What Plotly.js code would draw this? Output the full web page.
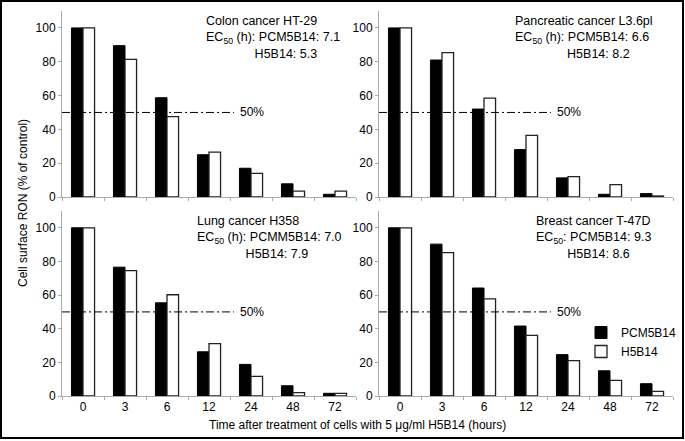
<!DOCTYPE html>
<html>
<head>
<meta charset="utf-8">
<script src="https://cdn.plot.ly/plotly-3.0.1.min.js"></script>
<style>
  html, body { margin: 0; padding: 0; background: #fff; }
  #chart { width: 685px; height: 441px; }
</style>
</head>
<body>
<div id="chart"></div>
<script>
// Time points (hours)
const hours = ['0', '3', '6', '12', '24', '48', '72'];

// Cell surface RON, % of control
const colonPCM = [100, 89.5, 58.7, 25, 17, 7.8, 1.6];
const colonH = [100, 81.4, 47.5, 26.5, 14, 3.5, 3.5];
const pancPCM = [100, 81, 52, 28, 11.3, 1.6, 2];
const pancH = [100, 85.4, 58.5, 36.4, 12.1, 7.3, 0.6];
const lungPCM = [100, 76.6, 55.4, 26.3, 18.8, 6.1, 1.6];
const lungH = [100, 74.5, 60.2, 31.1, 11.7, 2, 1.6];
const breastPCM = [100, 90.3, 64.2, 41.6, 24.6, 15, 7.3];
const breastH = [100, 85.3, 57.8, 36, 21, 9.3, 2.8];

const seriesNames = ['PCM5B14', 'H5B14'];
const panelTitles = ['Colon cancer HT-29', 'Pancreatic cancer L3.6pl', 'Lung cancer H358', 'Breast cancer T-47D'];
const ecLines = [
    'EC<sub>50</sub> (h): PCM5B14: 7.1',
    'EC<sub>50</sub> (h): PCM5B14: 6.6',
    'EC<sub>50</sub> (h): PCMM5B14: 7.0',
    'EC<sub>50</sub>: PCM5B14: 9.3'
];
const hLines = ['H5B14: 5.3', 'H5B14: 8.2', 'H5B14: 7.9', 'H5B14: 8.6'];
const halfLevel = 50;

const W = 685, H = 441;
const px = x => x / W;
const py = y => 1 - y / H;
const font = 'Liberation Sans, Arial, sans-serif';

const panels = [
    [colonPCM, colonH],
    [pancPCM, pancH],
    [lungPCM, lungH],
    [breastPCM, breastH]
];

// pixel boxes for each panel
const xDom = [[62, 356], [379, 673], [62, 356], [379, 673]];
const yDom = [[197, 11], [197, 11], [396, 211], [396, 211]];
// label block: left x, middle y, indent (in spaces) of last line
const labelPos = [[205, 37, 14], [514, 37, 15], [196, 237, 14], [535, 237, 9]];

var traces = [];
var layout = {
    width: W,
    height: H,
    autosize: false,
    margin: { l: 0, r: 0, t: 0, b: 0 },
    paper_bgcolor: '#fff',
    plot_bgcolor: '#fff',
    barmode: 'group',
    bargap: 0.45,
    bargroupgap: 0,
    font: { family: font, size: 12, color: '#000' },
    showlegend: true,
    legend: {
        x: px(581), y: py(318), xanchor: 'left', yanchor: 'top',
        bgcolor: 'rgba(0,0,0,0)', font: { family: font, size: 12, color: '#000' },
        tracegroupgap: 0, itemwidth: 30
    },
    shapes: [],
    annotations: []
};

panels.forEach((p, i) => {
    const n = i === 0 ? '' : String(i + 1);
    const xa = 'x' + n, ya = 'y' + n;

    traces.push({
        type: 'bar', x: hours, y: p[0], name: seriesNames[0],
        xaxis: xa, yaxis: ya, showlegend: i === 0, legendgroup: 'a',
        marker: { color: '#000', line: { color: '#000', width: 1 } }
    });
    traces.push({
        type: 'bar', x: hours, y: p[1], name: seriesNames[1],
        xaxis: xa, yaxis: ya, showlegend: i === 0, legendgroup: 'b',
        marker: { color: '#fff', line: { color: '#222', width: 1.3 } }
    });

    layout['xaxis' + n] = {
        domain: [px(xDom[i][0]), px(xDom[i][1])],
        anchor: ya,
        type: 'category',
        showline: true, linecolor: '#aaa', linewidth: 1,
        ticks: 'outside', ticklen: 3, tickcolor: '#aaa', tickson: 'boundaries',
        showgrid: false, zeroline: false,
        showticklabels: i >= 2,
        tickfont: { family: font, size: 12, color: '#000' }
    };
    layout['yaxis' + n] = {
        domain: [py(yDom[i][0]), py(yDom[i][1])],
        anchor: xa,
        range: [0, 110],
        tickvals: [0, 20, 40, 60, 80, 100],
        showline: true, linecolor: '#aaa', linewidth: 1,
        ticks: 'outside', ticklen: 3, tickcolor: '#aaa',
        showgrid: false, zeroline: false,
        tickfont: { family: font, size: 12, color: '#000' }
    };

    // 50% reference line
    layout.shapes.push({
        type: 'line', xref: xa + ' domain', yref: ya,
        x0: 0, x1: 0.585, y0: halfLevel, y1: halfLevel,
        line: { color: '#000', width: 1, dash: '8px,3px,2px,3px' }
    });
    layout.annotations.push({
        xref: xa + ' domain', yref: ya, x: 0.6, y: halfLevel,
        xanchor: 'left', yanchor: 'middle', showarrow: false,
        text: halfLevel + '%', font: { family: font, size: 12, color: '#000' }
    });

    // panel label block
    const lp = labelPos[i];
    const indent = '&nbsp;'.repeat(lp[2]);
    layout.annotations.push({
        xref: 'paper', yref: 'paper', x: px(lp[0]), y: py(lp[1]),
        xanchor: 'left', yanchor: 'middle', align: 'left', showarrow: false, borderpad: 0,
        text: panelTitles[i] + '<br>' + ecLines[i] + '<br>' + indent + hLines[i],
        font: { family: font, size: 12.5, color: '#000' }
    });
});

// axis titles
layout.annotations.push({
    xref: 'paper', yref: 'paper', x: px(23), y: py(203),
    xanchor: 'center', yanchor: 'middle', showarrow: false, textangle: -90,
    text: 'Cell surface RON (% of control)', font: { family: font, size: 12, color: '#000' }
});
layout.annotations.push({
    xref: 'paper', yref: 'paper', x: px(357), y: py(425),
    xanchor: 'center', yanchor: 'middle', showarrow: false,
    text: 'Time after treatment of cells with 5 μg/ml H5B14 (hours)', font: { family: font, size: 12, color: '#000' }
});

// outer frame
layout.shapes.push({
    type: 'rect', xref: 'paper', yref: 'paper',
    x0: px(1), x1: px(683), y0: py(438), y1: py(1),
    line: { color: '#000', width: 2 }
});

Plotly.newPlot('chart', traces, layout, { displayModeBar: false, staticPlot: true });
</script>
</body>
</html>
